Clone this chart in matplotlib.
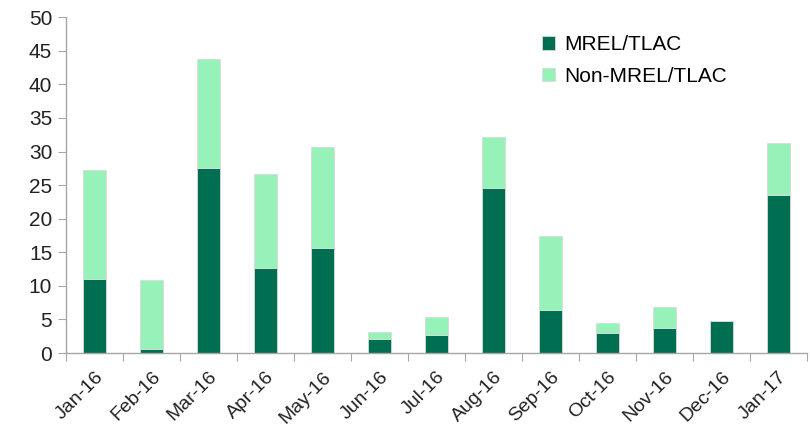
import numpy as np
import matplotlib.pyplot as plt

months = ['Jan-16', 'Feb-16', 'Mar-16', 'Apr-16', 'May-16', 'Jun-16', 'Jul-16',
          'Aug-16', 'Sep-16', 'Oct-16', 'Nov-16', 'Dec-16', 'Jan-17']
mrel = [11.0, 0.6, 27.5, 12.6, 15.6, 2.1, 2.7, 24.6, 6.4, 3.0, 3.7, 4.8, 23.5]
non_mrel = [16.3, 10.3, 16.2, 14.0, 15.1, 1.1, 2.6, 7.6, 11.0, 1.5, 3.2, 0.0, 7.7]

dark = '#006F51'
light = '#96F2B8'
grey = '#A6A6A6'

plt.rcParams['font.family'] = ['Liberation Sans', 'DejaVu Sans']

fig = plt.figure(figsize=(8.1, 4.29), dpi=100)
ax = fig.add_axes([0.0815, 0.177, 0.9145, 0.783])

x = np.arange(len(months))
ax.bar(x, mrel, width=0.4, color=dark, edgecolor='#D9D9D9', linewidth=0.6,
       label='MREL/TLAC', zorder=2)
ax.bar(x, non_mrel, width=0.4, bottom=mrel, color=light, edgecolor='#D9D9D9',
       linewidth=0.6, label='Non-MREL/TLAC', zorder=2)

ax.set_xlim(-0.5, len(months) - 0.5)
ax.set_ylim(0, 50)
ax.set_yticks(np.arange(0, 51, 5))

# boundary ticks without labels, month labels centred under bars
ax.set_xticks(np.arange(-0.5, len(months), 1.0))
ax.set_xticklabels([])
ax.set_xticks(x, minor=True)
ax.set_xticklabels(months, minor=True, rotation=45, ha='right',
                   rotation_mode='anchor')
ax.tick_params(axis='x', which='minor', length=0, pad=11, labelsize=14,
               labelcolor='#222222')
ax.tick_params(axis='x', which='major', length=6, color=grey, direction='out')
ax.tick_params(axis='y', length=6, color=grey, labelsize=15,
               labelcolor='#222222', pad=4)

for side in ['top', 'right']:
    ax.spines[side].set_visible(False)
for side in ['left', 'bottom']:
    ax.spines[side].set_color(grey)
    ax.spines[side].set_linewidth(1.0)

ax.legend(loc='upper left', bbox_to_anchor=(0.628, 0.977), frameon=False,
          fontsize=15, handlelength=0.62, handleheight=0.62, handletextpad=0.45,
          labelspacing=0.6, borderpad=0)

fig.savefig('out.png', dpi=100)
